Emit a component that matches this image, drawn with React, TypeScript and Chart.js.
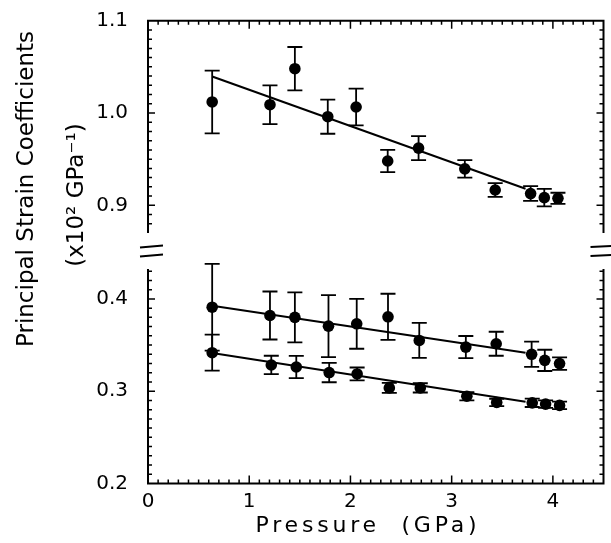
import React, { useEffect, useRef } from "react";
import { Chart, registerables } from "chart.js";

Chart.register(...registerables);

// ---- data ----
const PRESSURE_TOP = [0.634, 1.205, 1.451, 1.776, 2.056, 2.368, 2.673, 3.13, 3.43, 3.78, 3.915, 4.05];
const COEF_TOP = [1.012, 1.009, 1.048, 0.996, 1.0065, 0.948, 0.962, 0.9395, 0.9166, 0.9127, 0.9083, 0.9076];
const ERR_TOP = [0.034, 0.021, 0.0235, 0.0185, 0.02, 0.012, 0.013, 0.0095, 0.0075, 0.008, 0.0095, 0.006];

const PRESSURE_MID = [0.634, 1.205, 1.451, 1.783, 2.062, 2.371, 2.68, 3.14, 3.44, 3.79, 3.92, 4.066];
const COEF_MID = [0.391, 0.382, 0.38, 0.3705, 0.373, 0.3806, 0.355, 0.3478, 0.3514, 0.34, 0.3334, 0.3299];
const ERR_MID = [0.047, 0.026, 0.027, 0.0335, 0.027, 0.025, 0.019, 0.012, 0.013, 0.0137, 0.0115, 0.0068];

const PRESSURE_LOW = [0.634, 1.218, 1.465, 1.79, 2.066, 2.384, 2.69, 3.15, 3.445, 3.796, 3.928, 4.066];
const COEF_LOW = [0.3417, 0.3284, 0.3262, 0.3202, 0.3187, 0.3036, 0.3036, 0.2946, 0.2878, 0.2874, 0.286, 0.2846];
const ERR_LOW = [0.0195, 0.01, 0.012, 0.0105, 0.007, 0.0055, 0.005, 0.0045, 0.004, 0.0045, 0.004, 0.004];

const FIT_X = [0.634, 3.73];
const FIT_TOP = [1.0395, 0.918];
const FIT_MID = [0.3925, 0.3417];
const FIT_LOW = [0.3415, 0.2885];

const X_TICKS = [0, 1, 2, 3, 4];
const Y_TOP_TICKS = [0.9, 1.0, 1.1];
const Y_BOT_TICKS = [0.2, 0.3, 0.4];

const X_TITLE = "Pressure  (GPa)";
const Y_TITLE_1 = "Principal Strain Coefficients";
const Y_TITLE_2 = "(x10\u00B2 GPa\u207B\u00B9)";

const FONT = '"DejaVu Sans", sans-serif';

const pts = (xs: number[], ys: number[]) => xs.map((x, i) => ({ x, y: ys[i] }));

const ERROR_SERIES = [
  { xs: PRESSURE_TOP, ys: COEF_TOP, es: ERR_TOP, axis: "yTop" },
  { xs: PRESSURE_MID, ys: COEF_MID, es: ERR_MID, axis: "yBot" },
  { xs: PRESSURE_LOW, ys: COEF_LOW, es: ERR_LOW, axis: "yBot" },
];

const framePlugin = {
  id: "frame",
  beforeDatasetsDraw(chart: any) {
    const ctx = chart.ctx;
    const xs = chart.scales.x;
    ctx.save();
    ctx.strokeStyle = "#000";
    ctx.lineWidth = 1.8;
    for (const s of ERROR_SERIES) {
      const ys = chart.scales[s.axis];
      s.xs.forEach((xv, i) => {
        const px = xs.getPixelForValue(xv);
        const pt = ys.getPixelForValue(s.ys[i] + s.es[i]);
        const pb = ys.getPixelForValue(s.ys[i] - s.es[i]);
        ctx.beginPath();
        ctx.moveTo(px, pt);
        ctx.lineTo(px, pb);
        ctx.moveTo(px - 7.5, pt);
        ctx.lineTo(px + 7.5, pt);
        ctx.moveTo(px - 7.5, pb);
        ctx.lineTo(px + 7.5, pb);
        ctx.stroke();
      });
    }
    ctx.restore();
  },
  afterDraw(chart: any) {
    const ctx = chart.ctx;
    const { left, right, top, bottom } = chart.chartArea;
    const xs = chart.scales.x;
    const yt = chart.scales.yTop;
    const yb = chart.scales.yBot;
    ctx.save();
    ctx.strokeStyle = "#000";
    ctx.lineJoin = "miter";
    ctx.lineWidth = 2;
    // frame, broken between the two sections
    ctx.beginPath();
    ctx.moveTo(left, yt.bottom);
    ctx.lineTo(left, top);
    ctx.lineTo(right, top);
    ctx.lineTo(right, yt.bottom);
    ctx.moveTo(left, yb.top);
    ctx.lineTo(left, bottom);
    ctx.lineTo(right, bottom);
    ctx.lineTo(right, yb.top);
    ctx.stroke();

    // x ticks (bottom and top, inward)
    ctx.lineWidth = 1.5;
    ctx.beginPath();
    for (let k = 1; k < 45; k++) {
      const px = xs.getPixelForValue(k / 10);
      const len = k % 10 === 0 ? 8 : 4;
      ctx.moveTo(px, bottom);
      ctx.lineTo(px, bottom - len);
      ctx.moveTo(px, top);
      ctx.lineTo(px, top + len);
    }
    // y ticks for each section (left and right, inward)
    const yTicks = (scale: any, k0: number, k1: number) => {
      for (let k = k0; k <= k1; k++) {
        const py = scale.getPixelForValue(k / 100);
        const len = k % 10 === 0 ? 7 : 4;
        ctx.moveTo(left, py);
        ctx.lineTo(left + len, py);
        ctx.moveTo(right, py);
        ctx.lineTo(right - len, py);
      }
    };
    yTicks(yt, 88, 109);
    yTicks(yb, 21, 43);
    ctx.stroke();

    // break marks
    const mid = (yt.bottom + yb.top) / 2;
    ctx.lineWidth = 2;
    ctx.beginPath();
    for (const d of [-4.5, 4.5]) {
      ctx.moveTo(left - 8, mid + d + 1);
      ctx.lineTo(left + 15, mid + d - 1);
      ctx.moveTo(right - 13, mid + d + 0.5);
      ctx.lineTo(right + 8, mid + d - 0.5);
    }
    ctx.stroke();

    // titles
    ctx.fillStyle = "#000";
    ctx.textAlign = "center";
    ctx.textBaseline = "alphabetic";
    ctx.font = `23px ${FONT}`;
    ctx.save();
    ctx.translate(33, 189);
    ctx.rotate(-Math.PI / 2);
    ctx.fillText(Y_TITLE_1, 0, 0);
    ctx.restore();
    ctx.save();
    ctx.translate(83, 195);
    ctx.rotate(-Math.PI / 2);
    ctx.fillText(Y_TITLE_2, 0, 0);
    ctx.restore();

    ctx.font = `22px ${FONT}`;
    (ctx as any).letterSpacing = "3.8px";
    ctx.fillText(X_TITLE, 368, 532);
    (ctx as any).letterSpacing = "0px";
    ctx.restore();
  },
};

const tickFont = { family: FONT, size: 20 };
// invisible tick marks: only used to space the labels away from the frame
const hiddenGrid = (len: number) => ({
  display: true,
  drawOnChartArea: false,
  drawTicks: true,
  tickLength: len,
  color: "rgba(0,0,0,0)",
});

export default function App() {
  const ref = useRef<HTMLCanvasElement | null>(null);
  useEffect(() => {
    if (!ref.current) return;
    const line = (data: any, axis: string) => ({
      type: "line" as const,
      data,
      yAxisID: axis,
      borderColor: "#000",
      borderWidth: 2,
      pointRadius: 0,
      fill: false,
      showLine: true,
    });
    const dots = (data: any, axis: string) => ({
      type: "scatter" as const,
      data,
      yAxisID: axis,
      pointRadius: 5.8,
      pointBackgroundColor: "#000",
      pointBorderColor: "#000",
      pointBorderWidth: 0,
      showLine: false,
    });
    const chart = new Chart(ref.current, {
      type: "scatter",
      data: {
        datasets: [
          line(pts(FIT_X, FIT_TOP), "yTop"),
          line(pts(FIT_X, FIT_MID), "yBot"),
          line(pts(FIT_X, FIT_LOW), "yBot"),
          dots(pts(PRESSURE_TOP, COEF_TOP), "yTop"),
          dots(pts(PRESSURE_MID, COEF_MID), "yBot"),
          dots(pts(PRESSURE_LOW, COEF_LOW), "yBot"),
        ] as any,
      },
      options: {
        animation: false,
        responsive: false,
        events: [],
        layout: { padding: { left: 0, right: 7.5, top: 20.7, bottom: 0 } },
        plugins: { legend: { display: false }, tooltip: { enabled: false } },
        scales: {
          x: {
            type: "linear",
            position: "bottom",
            min: 0,
            max: 4.5,
            grid: hiddenGrid(6),
            border: { display: false },
            ticks: { font: tickFont, color: "#000", padding: 0, callback: (v: any) => String(v) },
            afterBuildTicks: (s: any) => {
              s.ticks = X_TICKS.map((v) => ({ value: v }));
            },
            afterFit: (s: any) => {
              s.height = 59.5;
            },
          },
          yBot: {
            type: "linear",
            position: "left",
            stack: "y",
            stackWeight: 0.2324,
            weight: 1,
            min: 0.2,
            max: 0.4324,
            grid: hiddenGrid(20),
            border: { display: false },
            ticks: { font: tickFont, color: "#000", padding: 0, callback: (v: any) => Number(v).toFixed(1) },
            afterBuildTicks: (s: any) => {
              s.ticks = Y_BOT_TICKS.map((v) => ({ value: v }));
            },
            afterFit: (s: any) => {
              s.width = 148;
            },
          },
          yGap: {
            type: "linear",
            position: "left",
            stack: "y",
            stackWeight: 0.039,
            weight: 2,
            min: 0,
            max: 1,
            grid: { display: false, drawTicks: false },
            border: { display: false },
            ticks: { display: false },
            afterFit: (s: any) => {
              s.width = 148;
            },
          },
          yTop: {
            type: "linear",
            position: "left",
            stack: "y",
            stackWeight: 0.23,
            weight: 3,
            min: 0.87,
            max: 1.1,
            grid: hiddenGrid(20),
            border: { display: false },
            ticks: { font: tickFont, color: "#000", padding: 0, callback: (v: any) => Number(v).toFixed(1) },
            afterBuildTicks: (s: any) => {
              s.ticks = Y_TOP_TICKS.map((v) => ({ value: v }));
            },
            afterFit: (s: any) => {
              s.width = 148;
            },
          },
        } as any,
      },
      plugins: [framePlugin as any],
    });
    return () => chart.destroy();
  }, []);
  return (
    <div style={{ position: "fixed", left: 0, top: 0, width: 611, height: 543, background: "#fff" }}>
      <canvas ref={ref} width={611} height={543} style={{ display: "block" }} />
    </div>
  );
}
